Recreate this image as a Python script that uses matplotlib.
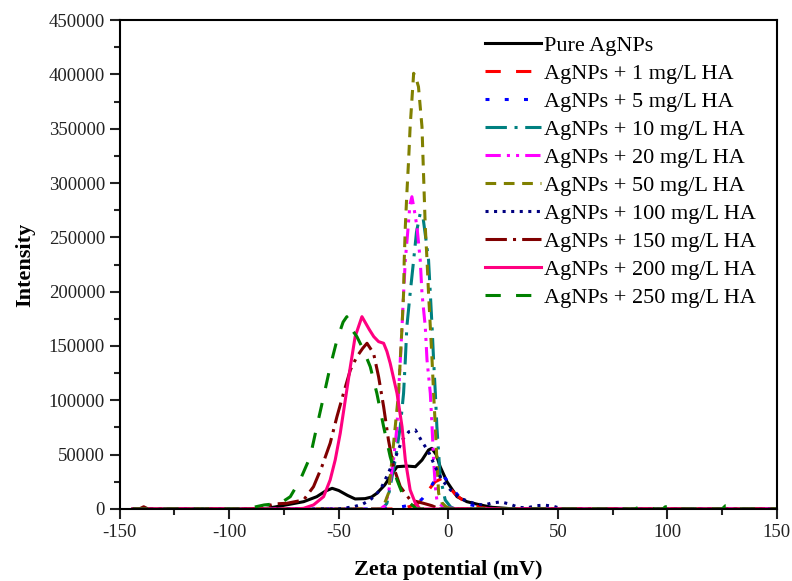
import matplotlib
matplotlib.use("Agg")
import matplotlib.pyplot as plt
from matplotlib.ticker import MultipleLocator

plt.rcParams['font.family'] = ['Liberation Serif', 'DejaVu Serif']
plt.rcParams['axes.unicode_minus'] = False

# Zeta potential distributions (mV, intensity)
pure_x = [-144, -85, -80, -74, -66, -60, -56, -53, -50, -46, -42.5, -38, -35, -32.6, -29, -26.5,
          -23.4, -19, -15, -12, -9, -7.5, -5.5, -3.7, -0.6, 4, 8.5, 14.6, 20, 25, 30, 150]
pure_y = [0, 0, 1500, 3700, 6700, 11300, 16500, 19000, 17000, 12500, 9200, 9500, 11000, 14400, 22000, 29700,
          38900, 39500, 38900, 45000, 54300, 55800, 50000, 38900, 25100, 11300, 6700, 3700, 1500, 800, 0, 0]

ha1_x = [-144, -25, -20, -15, -12, -9, -6, -3, 0, 3, 6, 9, 12, 15, 20, 150]
ha1_y = [0, 0, 1000, 3500, 8000, 17500, 25000, 28000, 21000, 14000, 9000, 5500, 3000, 1200, 0, 0]

ha5_x = [-144, -30, -25, -20, -15, -12, -9, -6, -3, 0, 3, 6, 10, 15, 20, 150]
ha5_y = [0, 0, 800, 2500, 5000, 9000, 17000, 27000, 32000, 25000, 16000, 9000, 4000, 1500, 0, 0]

ha10_x = [-144, -30, -28, -26.5, -24.2, -21.9, -20.4, -19.6, -18.9, -17.4, -15.8, -14.5, -12.8, -11.5,
          -10, -9, -8.2, -7.4, -6.7, -5.9, -5.2, -4.4, -3.7, -1.4, 1, 3, 150]
ha10_y = [0, 0, 5200, 20500, 45100, 75700, 106500, 137100, 167800, 198500, 229100, 255000, 272100, 268000,
          245000, 229100, 198500, 167800, 137100, 106500, 75700, 51300, 29700, 8300, 2000, 0, 0]

ha20_x = [-144, -31, -29, -27.3, -25, -23.4, -22.7, -21.9, -21.1, -20.4, -19.6, -18.5, -17.5, -16.6,
          -15.5, -14.3, -12.8, -12, -10.5, -9.7, -8.2, -7.4, -6.7, -5.9, -5.2, -3, 0, 5, 150]
ha20_y = [0, 0, 3000, 14400, 45100, 75700, 106500, 137100, 167800, 198500, 229100, 255000, 280000, 287400,
          275000, 259800, 229100, 198500, 167800, 137100, 106500, 75700, 45100, 20500, 8000, 3000, 1000, 0, 0]

ha50_x = [-144, -30, -27.3, -25.7, -24.2, -22.7, -21.9, -21.1, -20.4, -20.1, -19.6, -18.9, -18.1, -17.4,
          -15.8, -14.5, -13.6, -12, -11.5, -11, -10.5, -9.7, -9, -8.2, -7.4, -6.7, -5.9, -5.2, -4.4,
          -3, -1, 1, 150]
ha50_y = [0, 0, 14400, 45100, 75700, 106500, 137100, 167800, 198500, 229100, 259800, 290500, 321100, 351800,
          401000, 395000, 388600, 351800, 321100, 290500, 259800, 229100, 198500, 167800, 137100, 106500,
          75700, 45100, 14400, 6000, 2000, 0, 0]

ha100_x = [-144, -50, -43, -39, -35.6, -31, -27.4, -24, -21, -18, -15, -12, -9, -6, -2.9, 1, 5.5, 11.6,
           16, 20, 24, 28, 32, 36, 40, 44, 48, 52, 150]
ha100_y = [0, 0, 2100, 4500, 8300, 17500, 32900, 48100, 63500, 71100, 72700, 62000, 52700, 38900, 26700,
           17500, 9800, 5200, 3500, 5500, 6500, 4500, 1500, 1000, 3000, 3500, 2500, 0, 0]

ha150_x = [-144, -141, -139, -137, -90, -84, -79.8, -73.7, -66, -61.5, -57.7, -53.9, -50.8, -47.8, -44.7,
           -41.7, -39, -37.1, -34.1, -31.8, -29.5, -27.3, -25, -21.9, -17.4, -11.3, -7.5, -4, 150]
ha150_y = [0, 0, 2000, 0, 0, 1500, 4600, 5200, 8300, 20500, 38900, 60500, 85000, 106500, 127900,
           140200, 148000, 152500, 143300, 121700, 94100, 63500, 38900, 20500, 8300, 5200, 3000, 0, 0]

ha200_x = [-144, -70, -66, -61.5, -56.9, -53.9, -51.6, -49.3, -47, -44.7, -42.5, -39.4, -36, -34,
           -31.8, -29.5, -28, -26.5, -23.4, -21.1, -19.6, -17.4, -15, -12.8, 150]
ha200_y = [0, 0, 600, 3700, 11300, 26700, 45100, 69700, 100300, 130900, 158600, 177000, 165000, 158600,
           154000, 152500, 145000, 134100, 106500, 75700, 45100, 17500, 5200, 0, 0]

ha250_x = [-144, -95, -89, -84, -76.7, -72.1, -67.6, -63, -60, -56.9, -53.9, -50.8, -48, -46.3, -44,
           -41.7, -38.7, -35.6, -32.6, -29.5, -26.5, -23.4, -20.4, -17.4, -14.5, 85, 87.7, 91.3, 94,
           98, 99, 105, 106, 125, 126.5, 131, 133, 150]
ha250_y = [0, 0, 1500, 3700, 5200, 11300, 26700, 48100, 75700, 103400, 130900, 155500, 172000, 177000,
           165000, 158600, 146300, 130900, 106500, 75700, 48100, 26700, 11300, 5200, 0, 0, 2000, 2000, 0,
           0, 2000, 2000, 0, 0, 3000, 3000, 0, 0]

labels = ["Pure AgNPs", "AgNPs + 1 mg/L HA", "AgNPs + 5 mg/L HA", "AgNPs + 10 mg/L HA",
          "AgNPs + 20 mg/L HA", "AgNPs + 50 mg/L HA", "AgNPs + 100 mg/L HA",
          "AgNPs + 150 mg/L HA", "AgNPs + 200 mg/L HA", "AgNPs + 250 mg/L HA"]

series = [(pure_x, pure_y), (ha1_x, ha1_y), (ha5_x, ha5_y), (ha10_x, ha10_y), (ha20_x, ha20_y),
          (ha50_x, ha50_y), (ha100_x, ha100_y), (ha150_x, ha150_y), (ha200_x, ha200_y),
          (ha250_x, ha250_y)]

colors = ["#000000", "#FF0000", "#0000FF", "#008080", "#FF00FF", "#808000", "#000080",
          "#800000", "#FF0080", "#008000"]
styles = ["-", (0, (5, 5)), (0, (1.3, 5)), (0, (7, 2.5, 1, 2.5)), (0, (5, 2, 1, 2, 1, 2)),
          (0, (3.5, 2.5)), (0, (1, 1.8)), (0, (7, 2, 1, 2)), "-", (0, (5, 5))]

fig = plt.figure(figsize=(7.92, 5.81), dpi=100)
ax = fig.add_axes([0.151, 0.124, 0.830, 0.8415])

for (x, y), c, ls, lab in zip(series, colors, styles, labels):
    ax.plot(x, y, color=c, linestyle=ls, linewidth=2.2, label=lab)

ax.set_xlim(-150, 150)
ax.set_ylim(0, 450000)
ax.xaxis.set_major_locator(MultipleLocator(50))
ax.xaxis.set_minor_locator(MultipleLocator(25))
ax.yaxis.set_major_locator(MultipleLocator(50000))
ax.yaxis.set_minor_locator(MultipleLocator(25000))
ax.tick_params(which='both', direction='out', top=False, right=False, width=1.5,
               labelsize=13.5, colors='#222222')
ax.tick_params(which='major', length=7)
ax.tick_params(which='minor', length=4)
for sp in ax.spines.values():
    sp.set_linewidth(1.5)

ax.set_xlabel("Zeta potential (mV)", fontsize=16, fontweight='bold', labelpad=14)
ax.set_ylabel("Intensity", fontsize=16, fontweight='bold', labelpad=10)

ax.legend(loc='upper left', bbox_to_anchor=(0.556, 0.968), frameon=False, fontsize=16,
          handlelength=2.5, handletextpad=0.15, labelspacing=0.335, borderpad=0,
          borderaxespad=0)

fig.savefig("out.png", dpi=100)
